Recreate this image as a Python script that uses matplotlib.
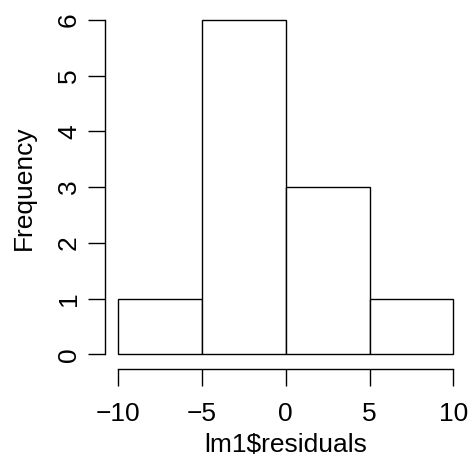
import matplotlib
matplotlib.use('Agg')
from matplotlib import pyplot as plt

# histogram of lm1$residuals
bin_edges = [-10, -5, 0, 5, 10]
counts = [1, 6, 3, 1]
x_ticks = [-10, -5, 0, 5, 10]
y_ticks = [0, 1, 2, 3, 4, 5, 6]

plt.rcParams['font.family'] = ['Liberation Sans', 'DejaVu Sans']

fig = plt.figure(figsize=(4.73, 4.66), dpi=100)
ax = fig.add_axes([0.2226, 0.2075, 0.7632, 0.7783])

widths = [b - a for a, b in zip(bin_edges[:-1], bin_edges[1:])]
ax.bar(bin_edges[:-1], counts, width=widths, align='edge',
       facecolor='white', edgecolor='black', linewidth=1.0)

ax.set_xlim(-10.776, 10.776)
ax.set_ylim(-0.27, 6.24)

for s in ['top', 'right']:
    ax.spines[s].set_visible(False)
ax.spines['left'].set_bounds(0, 6)
ax.spines['bottom'].set_bounds(-10, 10)
ax.spines['left'].set_linewidth(1.0)
ax.spines['bottom'].set_linewidth(1.0)

ax.set_xticks(x_ticks)
ax.set_yticks(y_ticks)
ax.tick_params(axis='both', direction='out', length=12, width=1.0, labelsize=19)
ax.tick_params(axis='x', pad=11.5)
ax.tick_params(axis='y', pad=5.5)
for lab in ax.get_yticklabels():
    lab.set_rotation(90)
    lab.set_va('center')

ax.set_xlabel('lm1$residuals', fontsize=19, labelpad=5)
ax.set_ylabel('Frequency', fontsize=19, labelpad=15)

plt.savefig('out.png', dpi=100)
